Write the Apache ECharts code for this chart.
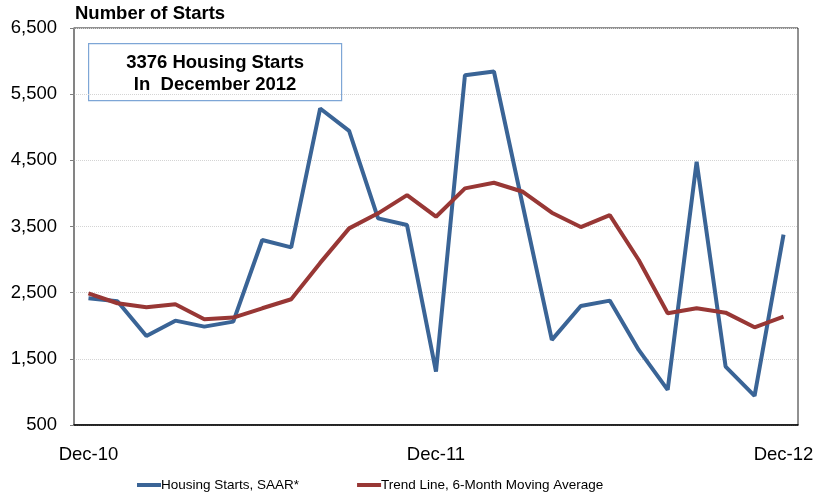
<!DOCTYPE html>
<html>
<head>
<meta charset="utf-8">
<script src="https://cdn.jsdelivr.net/npm/echarts@6/dist/echarts.min.js"></script>
<style>
body { margin: 0; background: #fff; }
#main { width: 819px; height: 502px; }
</style>
</head>
<body>
<div id="main"></div>
<script>
var months = ['Dec-10', 'Jan-11', 'Feb-11', 'Mar-11', 'Apr-11', 'May-11', 'Jun-11', 'Jul-11', 'Aug-11', 'Sep-11', 'Oct-11', 'Nov-11',
    'Dec-11', 'Jan-12', 'Feb-12', 'Mar-12', 'Apr-12', 'May-12', 'Jun-12', 'Jul-12', 'Aug-12', 'Sep-12', 'Oct-12', 'Nov-12', 'Dec-12'];
var starts = [2415, 2370, 1846, 2077, 1987, 2062, 3296, 3185, 5284, 4946, 3623, 3522,
    1307, 5787, 5843, 3810, 1786, 2299, 2380, 1635, 1031, 4478, 1383, 940, 3376];
var trend = [2490, 2340, 2280, 2325, 2098, 2123, 2264, 2400, 2950, 3472, 3699, 3975,
    3648, 4076, 4161, 4025, 3708, 3492, 3673, 2994, 2189, 2264, 2198, 1977, 2138];
var seriesNames = ['Housing Starts, SAAR*', 'Trend Line, 6-Month Moving Average'];

var fontFam = 'Liberation Sans, Arial, sans-serif';
var myChart = echarts.init(document.getElementById('main'));
var option = {
    animation: false,
    textStyle: { fontFamily: fontFam },
    grid: {
        left: 74,
        right: 21,
        top: 28,
        bottom: 77,
        show: true,
        borderColor: '#222',
        borderWidth: 1
    },
    graphic: [
        {
            type: 'text',
            left: 75,
            top: 4,
            style: { text: 'Number of Starts', font: 'bold 18.5px ' + fontFam, fill: '#000' }
        },
        {
            type: 'group',
            left: 88,
            top: 43,
            children: [
                {
                    type: 'rect',
                    shape: { x: 0, y: 0, width: 253, height: 57 },
                    style: { fill: '#fff', stroke: '#7ea6d6', lineWidth: 1.2 }
                },
                {
                    type: 'text',
                    x: 126.5,
                    y: 30,
                    style: {
                        text: '3376 Housing Starts\nIn  December 2012',
                        font: 'bold 18.5px ' + fontFam,
                        fill: '#000',
                        align: 'center',
                        verticalAlign: 'middle',
                        lineHeight: 22
                    }
                }
            ]
        }
    ],
    legend: {
        bottom: 5,
        left: 132,
        itemGap: 58,
        itemWidth: 24,
        itemHeight: 4,
        icon: 'rect',
        textStyle: { fontSize: 13.5, color: '#000', padding: [0, 0, 0, -5] },
        data: seriesNames
    },
    xAxis: {
        type: 'category',
        data: months,
        boundaryGap: true,
        axisLine: { lineStyle: { color: '#000', width: 1.5 } },
        axisTick: { interval: 11, length: 5, lineStyle: { color: '#666' } },
        axisLabel: { interval: 11, fontSize: 18.5, color: '#000', margin: 20 },
        splitLine: { show: false }
    },
    yAxis: {
        type: 'value',
        min: 500,
        max: 6500,
        interval: 1000,
        axisLine: { show: true, lineStyle: { color: '#808080', width: 1.5 } },
        axisTick: { show: true, length: 4, lineStyle: { color: '#808080' } },
        axisLabel: {
            fontSize: 18.5,
            color: '#000',
            margin: 17,
            formatter: function (v) { return v.toLocaleString('en-US'); }
        },
        splitLine: { lineStyle: { color: '#d4d4d4', type: 'dotted', width: 1 } }
    },
    series: [
        {
            name: seriesNames[0],
            type: 'line',
            data: starts,
            symbol: 'none',
            lineStyle: { color: '#3a6496', width: 4 },
            itemStyle: { color: '#3a6496' },
            z: 2
        },
        {
            name: seriesNames[1],
            type: 'line',
            data: trend,
            symbol: 'none',
            lineStyle: { color: '#983735', width: 4 },
            itemStyle: { color: '#983735' },
            z: 3
        }
    ]
};
myChart.setOption(option);
window.addEventListener('resize', function () {
    myChart.resize();
});
</script>
</body>
</html>
